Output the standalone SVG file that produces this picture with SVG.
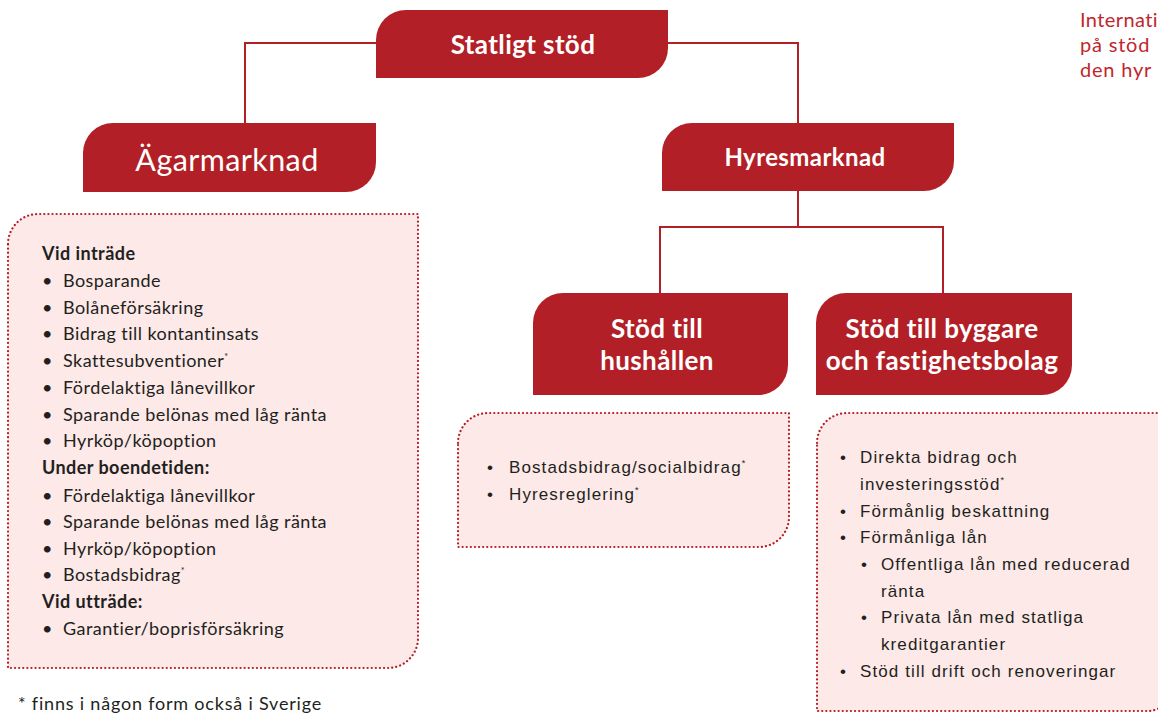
<svg xmlns="http://www.w3.org/2000/svg" width="1158" height="713" viewBox="0 0 1158 713">
<style>
.hdr{fill:#b31f26}
.box{fill:#fce9e8;stroke:#b31f26;stroke-width:2.2;stroke-dasharray:0.1 4;stroke-linecap:round}
.con{fill:none;stroke:#b31f26;stroke-width:2}
.ht{fill:#fff;font-family:Lato,"Liberation Sans",sans-serif;font-weight:bold;text-anchor:middle;letter-spacing:0.4px}
.lt{fill:#231f20;font-family:Lato,"Liberation Sans",sans-serif;font-size:18px;letter-spacing:0.45px}
.lb{fill:#231f20;font-family:Lato,"Liberation Sans",sans-serif;font-size:18px;font-weight:bold;letter-spacing:0.45px}
.rt{fill:#231f20;font-family:"Liberation Sans",Arial,sans-serif;font-size:17px;letter-spacing:1.1px}
.sup{font-size:9px;letter-spacing:0}
.red{fill:#c0272d;font-family:Lato,"Liberation Sans",sans-serif;font-size:20px;letter-spacing:0.8px}
</style>
<rect width="1158" height="713" fill="#fff"/>
<g id="connectors">
<path class="con" d="M376,43 H245 V123"/>
<path class="con" d="M668,43 H798 V123"/>
<path class="con" d="M798,191 V227"/>
<path class="con" d="M660,293 V227 H943 V293"/>
</g>
<g id="statligt">
<path class="hdr" d="M376,40 A30,30 0 0 1 406,10 H668 V48 A30,30 0 0 1 638,78 H376 Z"/>
<text class="ht" x="523" y="54" font-size="26">Statligt stöd</text>
</g>
<g id="agarmarknad">
<path class="hdr" d="M83,153 A30,30 0 0 1 113,123 H376 V162 A30,30 0 0 1 346,192 H83 Z"/>
<text class="ht" x="227" y="171" font-size="30.5" style="font-weight:normal">Ägarmarknad</text>
</g>
<g id="hyresmarknad">
<path class="hdr" d="M662,153 A30,30 0 0 1 692,123 H954 V161 A30,30 0 0 1 924,191 H662 Z"/>
<text class="ht" x="805" y="166" font-size="24">Hyresmarknad</text>
</g>
<g id="hushallen">
<path class="hdr" d="M533,323 A30,30 0 0 1 563,293 H788 V365 A30,30 0 0 1 758,395 H533 Z"/>
<text class="ht" x="657" y="338" font-size="26">Stöd till</text>
<text class="ht" x="657" y="370" font-size="26">hushållen</text>
</g>
<g id="byggare">
<path class="hdr" d="M816,323 A30,30 0 0 1 846,293 H1072 V365 A30,30 0 0 1 1042,395 H816 Z"/>
<text class="ht" x="942" y="338" font-size="26">Stöd till byggare</text>
<text class="ht" x="942" y="370" font-size="26">och fastighetsbolag</text>
</g>
<g id="agar-lista">
<path class="box" d="M8,244 A30,30 0 0 1 38,214 H418 V638 A30,30 0 0 1 388,668 H8 Z"/>
<text class="lb" x="42" y="260">Vid inträde</text>
<text class="lt" x="42" y="287">•</text><text class="lt" x="63" y="287">Bosparande</text>
<text class="lt" x="42" y="314">•</text><text class="lt" x="63" y="314">Bolåneförsäkring</text>
<text class="lt" x="42" y="340">•</text><text class="lt" x="63" y="340">Bidrag till kontantinsats</text>
<text class="lt" x="42" y="367">•</text><text class="lt" x="63" y="367">Skattesubventioner<tspan class="sup" dy="-7">*</tspan></text>
<text class="lt" x="42" y="394">•</text><text class="lt" x="63" y="394">Fördelaktiga lånevillkor</text>
<text class="lt" x="42" y="421">•</text><text class="lt" x="63" y="421">Sparande belönas med låg ränta</text>
<text class="lt" x="42" y="447">•</text><text class="lt" x="63" y="447">Hyrköp/köpoption</text>
<text class="lb" x="42" y="474">Under boendetiden:</text>
<text class="lt" x="42" y="502">•</text><text class="lt" x="63" y="502">Fördelaktiga lånevillkor</text>
<text class="lt" x="42" y="528">•</text><text class="lt" x="63" y="528">Sparande belönas med låg ränta</text>
<text class="lt" x="42" y="555">•</text><text class="lt" x="63" y="555">Hyrköp/köpoption</text>
<text class="lt" x="42" y="581">•</text><text class="lt" x="63" y="581">Bostadsbidrag<tspan class="sup" dy="-7">*</tspan></text>
<text class="lb" x="42" y="608">Vid utträde:</text>
<text class="lt" x="42" y="635">•</text><text class="lt" x="63" y="635">Garantier/boprisförsäkring</text>
</g>
<g id="hushall-lista">
<path class="box" d="M458,443 A30,30 0 0 1 488,413 H789 V517 A30,30 0 0 1 759,547 H458 Z"/>
<text class="rt" x="487" y="473">•</text><text class="rt" x="509" y="473">Bostadsbidrag/socialbidrag<tspan class="sup" dy="-7">*</tspan></text>
<text class="rt" x="487" y="500">•</text><text class="rt" x="509" y="500">Hyresreglering<tspan class="sup" dy="-7">*</tspan></text>
</g>
<g id="byggare-lista">
<path class="box" d="M817,443 A30,30 0 0 1 847,413 H1177 V681 A30,30 0 0 1 1147,711 H817 Z"/>
<text class="rt" x="840" y="463">•</text><text class="rt" x="860" y="463">Direkta bidrag och</text>
<text class="rt" x="860" y="490">investeringsstöd<tspan class="sup" dy="-7">*</tspan></text>
<text class="rt" x="840" y="517">•</text><text class="rt" x="860" y="517">Förmånlig beskattning</text>
<text class="rt" x="840" y="543">•</text><text class="rt" x="860" y="543">Förmånliga lån</text>
<text class="rt" x="861" y="570">•</text><text class="rt" x="881" y="570">Offentliga lån med reducerad</text>
<text class="rt" x="881" y="597">ränta</text>
<text class="rt" x="861" y="623">•</text><text class="rt" x="881" y="623">Privata lån med statliga</text>
<text class="rt" x="881" y="650">kreditgarantier</text>
<text class="rt" x="840" y="677">•</text><text class="rt" x="860" y="677">Stöd till drift och renoveringar</text>
</g>
<g id="fotnot">
<text class="lt" x="18" y="710" font-size="19" style="letter-spacing:0.8px">* finns i någon form också i Sverige</text>
</g>
<g id="sidotext">
<text class="red" x="1080" y="27" style="letter-spacing:0.4px">Internati</text>
<text class="red" x="1080" y="52">på stöd</text>
<text class="red" x="1080" y="77">den hyr</text>
</g>
</svg>
